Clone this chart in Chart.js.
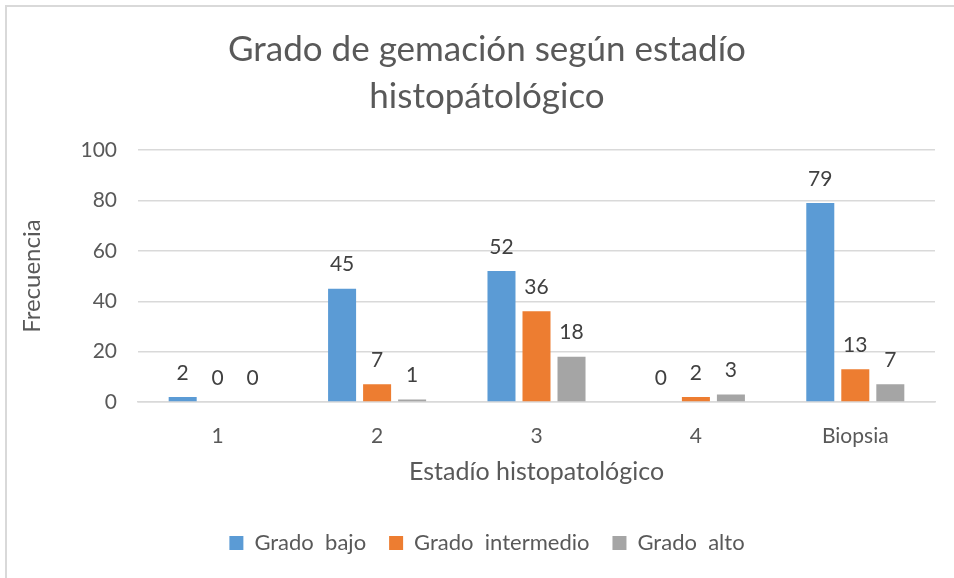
<!DOCTYPE html>
<html>
<head>
<meta charset="utf-8">
<script src="https://cdn.jsdelivr.net/npm/chart.js@4.4.1/dist/chart.umd.min.js"></script>
<style>
  html, body { margin: 0; padding: 0; background: #ffffff; }
  #wrap { position: relative; width: 954px; height: 578px; overflow: hidden; }
  #frame { position: absolute; left: 5px; top: 5px; width: 2000px; height: 2000px;
           border-top: 2px solid #d9d9d9; border-left: 2px solid #d9d9d9; box-sizing: border-box; }
  canvas { position: absolute; left: 0; top: 0; }
</style>
</head>
<body>
<div id="wrap">
  <div id="frame"></div>
  <canvas id="c" width="954" height="578"></canvas>
</div>
<script>
const categories = ['1', '2', '3', '4', 'Biopsia'];
const gradoBajo = [2, 45, 52, 0, 79];
const gradoIntermedio = [0, 7, 36, 2, 13];
const gradoAlto = [0, 1, 18, 3, 7];
const seriesNames = ['Grado  bajo', 'Grado  intermedio', 'Grado  alto'];
const yTicks = [0, 20, 40, 60, 80, 100];
const titleLines = ['Grado de gemación según estadío', 'histopátológico'];
const xTitle = 'Estadío histopatológico';
const yTitle = 'Frecuencia';

const FONT = 'Lato, "Open Sans", sans-serif';
const TEXT = '#595959';

const valueLabels = {
  id: 'valueLabels',
  afterDatasetsDraw(chart) {
    const ctx = chart.ctx;
    ctx.save();
    ctx.font = '21px ' + FONT;
    ctx.fillStyle = '#404040';
    ctx.textAlign = 'center';
    ctx.textBaseline = 'middle';
    chart.data.datasets.forEach((ds, i) => {
      const meta = chart.getDatasetMeta(i);
      meta.data.forEach((bar, j) => {
        ctx.fillText(String(ds.data[j]), bar.x, bar.y - 24);
      });
    });
    ctx.restore();
  }
};

new Chart(document.getElementById('c'), {
  type: 'bar',
  data: {
    labels: categories,
    datasets: [
      { label: seriesNames[0], data: gradoBajo, backgroundColor: '#5B9BD5' },
      { label: seriesNames[1], data: gradoIntermedio, backgroundColor: '#ED7D31' },
      { label: seriesNames[2], data: gradoAlto, backgroundColor: '#A5A5A5' }
    ]
  },
  options: {
    responsive: false,
    animation: false,
    devicePixelRatio: 1,
    categoryPercentage: 0.659,
    barPercentage: 0.8,
    layout: { padding: { left: 39, right: 19, top: 0, bottom: 14 } },
    plugins: {
      title: {
        display: true,
        text: titleLines,
        color: TEXT,
        font: { family: FONT, size: 35, weight: 'normal', lineHeight: 1.34 },
        padding: { top: 26.6, bottom: 29.8 }
      },
      legend: {
        position: 'bottom',
        labels: {
          color: TEXT,
          font: { family: FONT, size: 22 },
          boxWidth: 14,
          boxHeight: 14,
          padding: 23
        }
      },
      tooltip: { enabled: false }
    },
    scales: {
      x: {
        grid: { display: false, drawTicks: false },
        border: { display: true, color: '#d9d9d9', width: 1.5 },
        ticks: { color: TEXT, font: { family: FONT, size: 21 }, padding: 22 },
        title: {
          display: true, text: xTitle, color: TEXT,
          font: { family: FONT, size: 25 }, padding: { top: 0, bottom: 22 }
        },
        afterFit(scale) { scale.height = 107; }
      },
      y: {
        min: 0, max: 100,
        afterBuildTicks(scale) { scale.ticks = yTicks.map(v => ({ value: v })); },
        grid: { color: '#d9d9d9', lineWidth: 1.5, drawTicks: false },
        border: { display: false },
        ticks: { color: TEXT, font: { family: FONT, size: 21 }, padding: 21 },
        title: {
          display: true, text: yTitle, color: TEXT,
          font: { family: FONT, size: 24 }, padding: { top: -21, bottom: 0 }
        },
        afterFit(scale) { scale.width = 99; }
      }
    }
  },
  plugins: [valueLabels]
});
</script>
</body>
</html>
